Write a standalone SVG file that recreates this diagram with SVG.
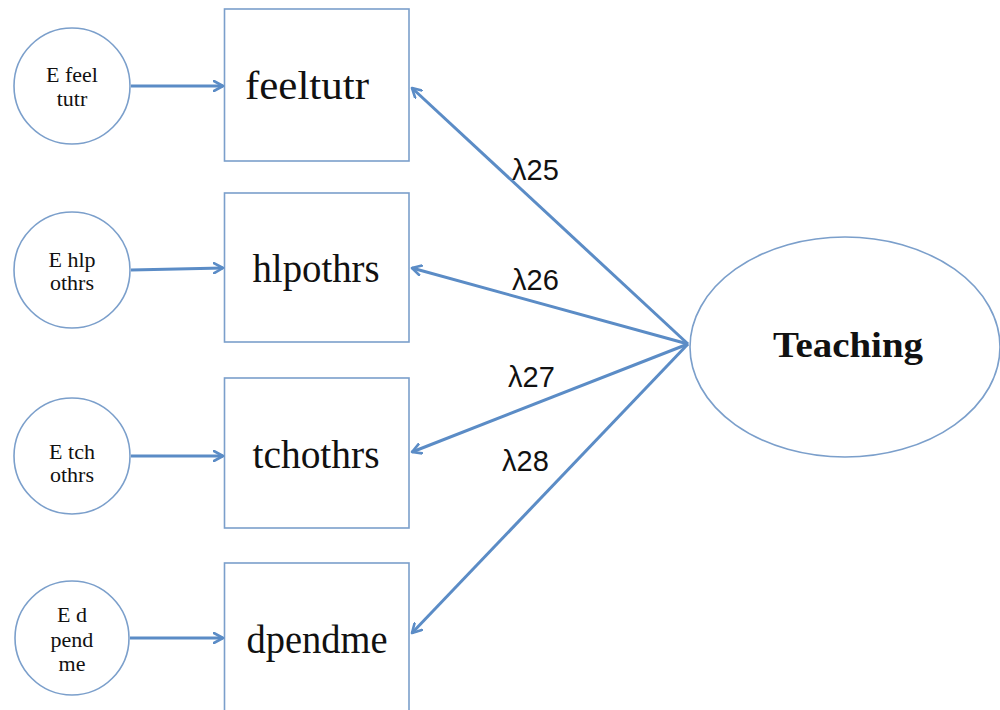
<svg xmlns="http://www.w3.org/2000/svg" width="1000" height="710" viewBox="0 0 1000 710">
<style>
.box{fill:#fff;stroke:#7b9fcb;stroke-width:1.6}
.circ{fill:#fff;stroke:#7b9fcb;stroke-width:1.6}
.lbl{font-family:"Liberation Serif",serif;fill:#111;text-anchor:middle}
.small{font-size:22px}
.big{font-size:40px}
.lam{font-family:"Liberation Sans",Arial,sans-serif;font-size:29px;fill:#111}
.conn{stroke:#5b8cc6;stroke-width:3;fill:none;marker-end:url(#arr)}
</style>
<defs>
<marker id="arr" markerWidth="12" markerHeight="12" refX="10" refY="6" orient="auto" markerUnits="userSpaceOnUse">
<path d="M1,1 L10,6 L1,11" fill="none" stroke="#5b8cc6" stroke-width="2.6" stroke-linecap="round" stroke-linejoin="round"/>
</marker>
</defs>
<rect width="1000" height="710" fill="#fff"/>
<g id="e-feeltutr"><circle class="circ" cx="72" cy="86" r="58"/><text class="lbl small" x="72" y="82">E feel</text><text class="lbl small" x="72" y="106">tutr</text></g>
<g id="e-hlpothrs"><circle class="circ" cx="72" cy="270" r="58"/><text class="lbl small" x="72" y="267">E hlp</text><text class="lbl small" x="72" y="290">othrs</text></g>
<g id="e-tchothrs"><circle class="circ" cx="72" cy="456" r="58"/><text class="lbl small" x="72" y="459">E tch</text><text class="lbl small" x="72" y="482">othrs</text></g>
<g id="e-dpendme"><circle class="circ" cx="72" cy="638" r="57"/><text class="lbl small" x="72" y="622">E d</text><text class="lbl small" x="72" y="647">pend</text><text class="lbl small" x="72" y="671">me</text></g>
<g id="feeltutr"><rect class="box" x="224.5" y="9" width="184.5" height="152"/><text class="lbl big" x="307" y="99" textLength="124" lengthAdjust="spacingAndGlyphs">feeltutr</text></g>
<g id="hlpothrs"><rect class="box" x="224.5" y="193" width="184.5" height="149"/><text class="lbl big" x="316" y="282" textLength="127" lengthAdjust="spacingAndGlyphs">hlpothrs</text></g>
<g id="tchothrs"><rect class="box" x="224.5" y="378" width="184.5" height="150"/><text class="lbl big" x="316" y="468" textLength="127" lengthAdjust="spacingAndGlyphs">tchothrs</text></g>
<g id="dpendme"><rect class="box" x="224.5" y="563" width="184.5" height="160"/><text class="lbl big" x="317" y="653" textLength="141" lengthAdjust="spacingAndGlyphs">dpendme</text></g>
<g id="teaching"><ellipse class="circ" cx="845" cy="347" rx="155" ry="110"/><text class="lbl" x="848" y="357" font-size="36" font-weight="bold" textLength="150" lengthAdjust="spacingAndGlyphs">Teaching</text></g>
<g id="connectors">
<line class="conn" x1="131" y1="86" x2="223" y2="86"/>
<line class="conn" x1="131" y1="270" x2="223" y2="268"/>
<line class="conn" x1="131" y1="456" x2="223" y2="456"/>
<line class="conn" x1="130" y1="638" x2="223" y2="638"/>
<line class="conn" x1="688" y1="344" x2="412" y2="88"/>
<line class="conn" x1="688" y1="344" x2="412" y2="268"/>
<line class="conn" x1="688" y1="344" x2="412" y2="452"/>
<line class="conn" x1="688" y1="344" x2="412" y2="633"/>
</g>
<g id="labels">
<text class="lam" x="512" y="180">λ25</text>
<text class="lam" x="512" y="290">λ26</text>
<text class="lam" x="508" y="387">λ27</text>
<text class="lam" x="502" y="471">λ28</text>
</g>
</svg>
